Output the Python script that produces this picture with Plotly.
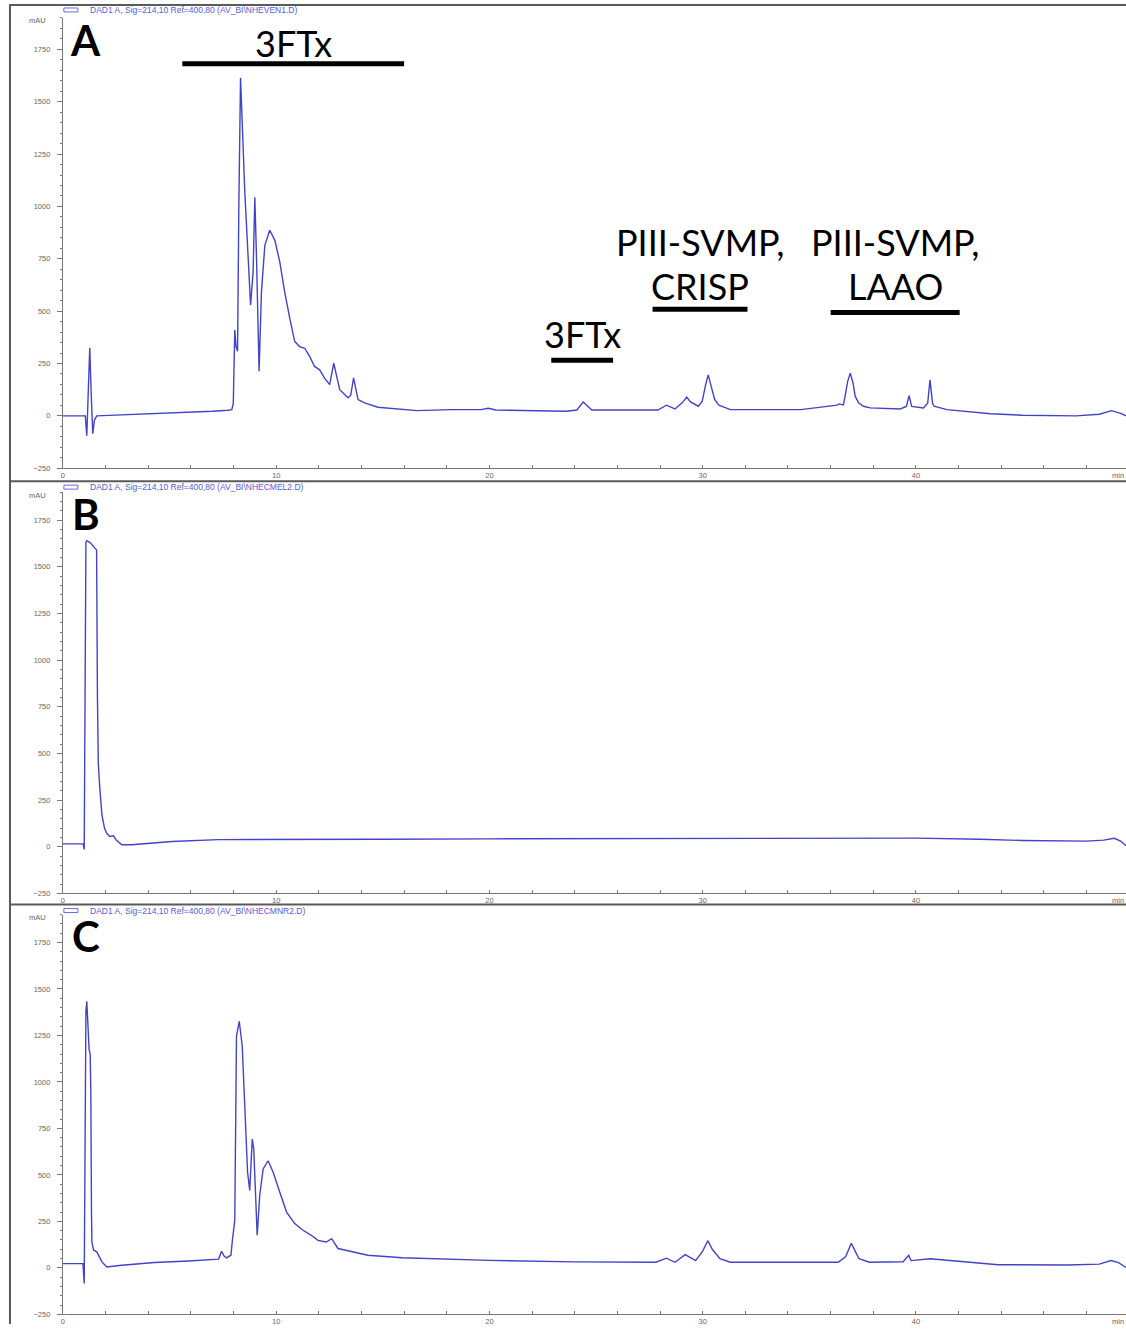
import plotly.graph_objects as go

# ---------------------------------------------------------------------------
# RP-HPLC chromatograms (DAD1 A, 214 nm); retention time in min, absorbance in mAU
# ---------------------------------------------------------------------------
time_a = [0.0, 1.0, 1.05, 1.12, 1.19, 1.26, 1.33, 1.40, 1.48, 1.59, 1.85, 3.0, 4.5, 6.2, 7.0,
          7.75, 7.92, 7.99, 8.02, 8.06, 8.12, 8.19, 8.25, 8.33, 8.38, 8.53, 8.69, 8.8, 8.92,
          9.0, 9.08, 9.16, 9.2, 9.31, 9.47, 9.7, 9.94, 10.17, 10.4, 10.64, 10.87, 11.1, 11.34,
          11.57, 11.8, 12.04, 12.27, 12.51, 12.7, 12.98, 13.37, 13.5, 13.63, 13.84, 14.15,
          14.77, 16.6, 18.2, 19.6, 19.95, 20.3, 23.6, 24.1, 24.4, 24.8, 27.9, 28.3, 28.7,
          29.04, 29.25, 29.43, 29.8, 29.98, 30.14, 30.26, 30.4, 30.56, 30.76, 31.3, 34.6,
          36.3, 36.4, 36.6, 36.69, 36.8, 36.92, 37.05, 37.15, 37.31, 37.54, 37.86, 39.26,
          39.55, 39.68, 39.8, 40.35, 40.55, 40.66, 40.78, 40.85, 41.45, 43.5, 45.0, 47.5,
          48.6, 49.17, 49.6, 49.85]
mau_a = [0, 0, 0, -95, 100, 325, 100, -85, -20, 0, 1, 5, 10, 19, 22,
         27, 30, 60, 276, 410, 330, 309, 1000, 1614, 1480, 1068, 751, 529, 688,
         1044, 751, 386, 213, 592, 814, 886, 838, 735, 592, 466, 355, 331, 323,
         284, 236, 220, 180, 149, 252, 125, 86, 100, 181, 78, 62,
         41, 25, 30, 30, 36, 28, 22, 28, 66, 28, 28, 51, 33,
         62, 90, 67, 46, 70, 149, 196, 141, 78, 51, 30, 30,
         51, 57, 52, 101, 165, 204, 157, 94, 62, 46, 38, 33,
         45, 97, 45, 38, 60, 172, 60, 46, 30, 10, 3, 0,
         8, 25, 12, 0]

time_b = [0.0, 0.95, 1.0, 1.04, 1.08, 1.12, 1.28, 1.50, 1.58, 1.62, 1.66, 1.72, 1.83, 1.95,
          2.06, 2.2, 2.37, 2.5, 2.76, 3.23, 5.1, 7.3, 10.0, 15.0, 20.0, 25.0, 30.0, 35.0,
          40.0, 43.0, 45.0, 48.0, 48.8, 49.3, 49.6, 49.85]
mau_b = [15, 15, -15, 1200, 1630, 1640, 1630, 1600, 1590, 800, 450, 330, 170, 100,
         70, 55, 58, 35, 10, 10, 28, 38, 40, 40, 42, 42, 42, 42,
         46, 40, 33, 30, 35, 45, 30, 5]

time_c = [0.0, 0.94, 1.0, 1.04, 1.08, 1.12, 1.17, 1.23, 1.28, 1.31, 1.34, 1.36, 1.44, 1.59,
          1.83, 2.06, 2.76, 4.3, 5.9, 7.3, 7.44, 7.55, 7.67, 7.88, 7.95, 8.02, 8.06, 8.14,
          8.24, 8.27, 8.41, 8.53, 8.66, 8.76, 8.85, 8.88, 8.95, 9.03, 9.11, 9.23, 9.39, 9.62,
          9.86, 10.17, 10.49, 10.87, 11.26, 11.65, 11.96, 12.35, 12.6, 12.9, 13.52, 14.3,
          15.9, 20.0, 24.0, 27.8, 28.3, 28.7, 29.18, 29.67, 30.0, 30.24, 30.45, 30.81, 31.3,
          36.0, 36.35, 36.7, 36.97, 37.15, 37.33, 37.82, 39.4, 39.66, 39.77, 40.67, 42.2,
          43.85, 47.1, 48.6, 49.15, 49.5, 49.85]
mau_c = [23, 23, -84, 700, 1380, 1433, 1300, 1174, 1150, 942, 300, 139, 95, 86,
         32, 5, 14, 29, 37, 47, 89, 65, 54, 68, 150, 238, 255, 1246,
         1326, 1326, 1192, 835, 514, 416, 603, 693, 639, 389, 175, 389, 532, 576,
         514, 407, 300, 238, 202, 175, 148, 139, 157, 104, 89, 68,
         54, 40, 32, 30, 52, 30, 71, 39, 90, 146, 100, 49, 30,
         30, 30, 60, 132, 90, 49, 30, 33, 67, 39, 49, 34,
         17, 15, 20, 39, 28, 2]

run_files = ["AV_BI\\NHEVEN1.D", "AV_BI\\NHECMEL2.D", "AV_BI\\NHECMNR2.D"]
panel_letters = ["A", "B", "C"]

# collected fractions marked on chromatogram A
band_labels = [["3FTx"], ["3FTx"], ["PIII-SVMP,", "CRISP"], ["PIII-SVMP,", "LAAO"]]
band_start = [5.6, 22.9, 27.65, 36.0]
band_end = [16.0, 25.8, 32.1, 42.05]

y_ticks = [-250, 0, 250, 500, 750, 1000, 1250, 1500, 1750]
x_ticks = [0, 10, 20, 30, 40]

# ---------------------------------------------------------------------------
W, H = 1126, 1329
LINE = "#4343c6"
AXIS = "#777777"
TICKFONT = dict(family="Liberation Sans", size=7.5, color="#666666")


def fx(p):
    return p / W


def fy(p):
    return 1 - p / H


# pixel extents of the three plot areas (top, bottom) and header rows
panels = [(18, 470), (494, 896.7), (918, 1319.3)]
headers = [10, 489, 914]
x_dom = [fx(61), 1.0]

fig = go.Figure()
series = [(time_a, mau_a), (time_b, mau_b), (time_c, mau_c)]
for i, (t, v) in enumerate(series):
    sfx = "" if i == 0 else str(i + 1)
    fig.add_trace(go.Scatter(x=t, y=v, mode="lines", xaxis="x" + sfx, yaxis="y" + sfx,
                             line=dict(color=LINE, width=1.4), showlegend=False,
                             hoverinfo="skip"))

layout = dict(width=W, height=H, margin=dict(l=0, r=0, t=0, b=0), autosize=False,
              plot_bgcolor="white", paper_bgcolor="white", showlegend=False)
for i, (top, bot) in enumerate(panels):
    sfx = "" if i == 0 else str(i + 1)
    layout["xaxis" + sfx] = dict(
        domain=x_dom, range=[0, 49.85], anchor="y" + sfx, showgrid=False, zeroline=False,
        showline=True, linecolor=AXIS, linewidth=1, tickvals=x_ticks,
        ticks="inside", ticklen=3, tickcolor=AXIS, tickfont=TICKFONT,
        minor=dict(dtick=2, ticks="inside", ticklen=3, tickcolor=AXIS))
    layout["yaxis" + sfx] = dict(
        domain=[fy(bot), fy(top)], range=[-250, 1900], anchor="x" + sfx, showgrid=False,
        zeroline=False, showline=True, linecolor=AXIS, linewidth=1, tickvals=y_ticks,
        ticks="outside", ticklen=5, tickcolor=AXIS, tickfont=TICKFONT,
        ticklabelstandoff=5,
        minor=dict(dtick=50, ticks="outside", ticklen=2, tickcolor=AXIS))
fig.update_layout(**layout)

shapes = []
annotations = []

# frame around the stacked report pages
FRAME = "#5a5a5a"
shapes.append(dict(type="line", xref="paper", yref="paper", x0=fx(8), x1=fx(8),
                   y0=fy(4), y1=0, line=dict(color=FRAME, width=2)))
for yline in (5, 483, 908):
    shapes.append(dict(type="line", xref="paper", yref="paper", x0=fx(8), x1=1,
                       y0=fy(yline), y1=fy(yline), line=dict(color=FRAME, width=2)))

for i, (top, bot) in enumerate(panels):
    head = headers[i]
    # legend swatch + signal description
    shapes.append(dict(type="rect", xref="paper", yref="paper", x0=fx(62), x1=fx(76),
                       y0=fy(head + 2), y1=fy(head - 2),
                       line=dict(color="#6a6ad8", width=1), fillcolor="rgba(0,0,0,0)"))
    annotations.append(dict(xref="paper", yref="paper", x=fx(86), y=fy(head),
                            xanchor="left", yanchor="middle", showarrow=False,
                            text="DAD1 A, Sig=214,10 Ref=400,80 (" + run_files[i] + ")",
                            font=dict(family="Liberation Sans", size=8.5, color="#5a5ad4")))
    annotations.append(dict(xref="paper", yref="paper", x=fx(46), y=fy(top + 3),
                            xanchor="right", yanchor="middle", showarrow=False, text="mAU",
                            font=TICKFONT))
    annotations.append(dict(xref="paper", yref="paper", x=fx(1126), y=fy(bot + 7),
                            xanchor="right", yanchor="middle", showarrow=False, text="min",
                            font=TICKFONT))
    annotations.append(dict(xref="paper", yref="paper", x=fx(84), y=fy(top + 22),
                            xanchor="center", yanchor="middle", showarrow=False,
                            text="<b>" + panel_letters[i] + "</b>",
                            font=dict(family="Lato", size=42, color="black")))

# fraction bars and labels on chromatogram A
bar_level = [1681, 266, 509, 494]
label_level = [[1781], [392], [830, 620], [830, 620]]
for k in range(len(band_labels)):
    shapes.append(dict(type="line", xref="x", yref="y", x0=band_start[k], x1=band_end[k],
                       y0=bar_level[k], y1=bar_level[k], line=dict(color="black", width=5)))
    mid = (band_start[k] + band_end[k]) / 2
    for txt, lvl in zip(band_labels[k], label_level[k]):
        annotations.append(dict(xref="x", yref="y", x=mid, y=lvl, xanchor="center",
                                yanchor="middle", showarrow=False, text=txt,
                                font=dict(family="Lato", size=36, color="black")))

fig.update_layout(shapes=shapes, annotations=annotations)
fig.write_html("out.html")
